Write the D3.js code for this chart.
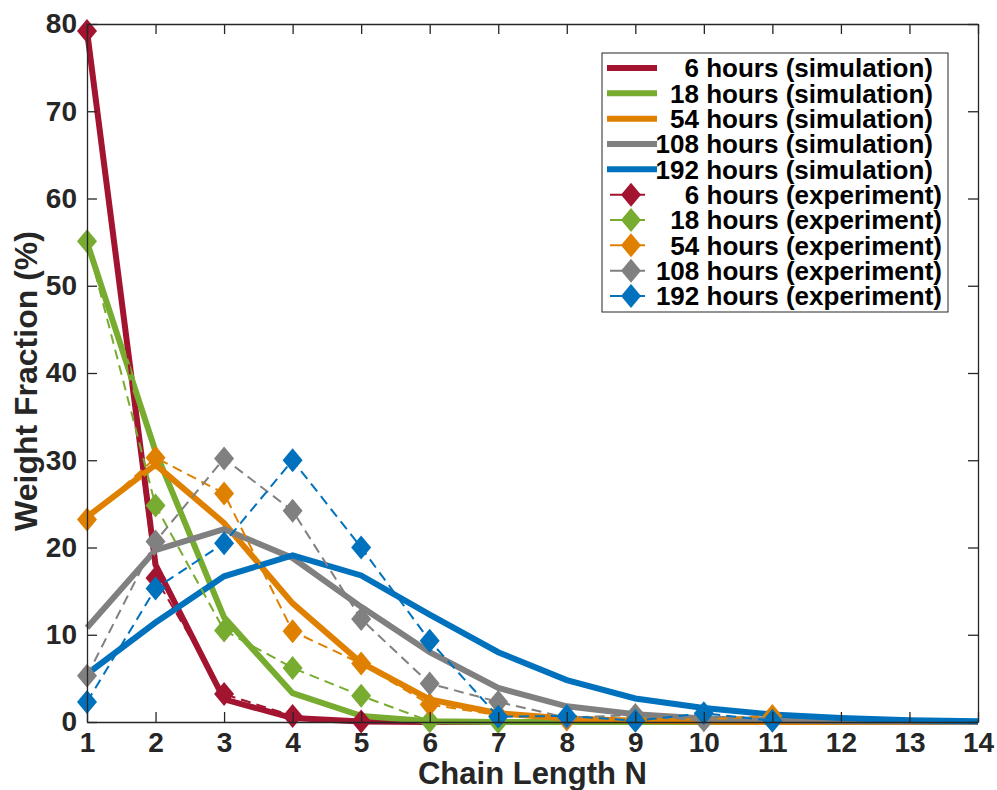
<!DOCTYPE html>
<html>
<head>
<meta charset="utf-8">
<script src="https://cdn.jsdelivr.net/npm/d3@7"></script>
<style>
body { margin: 0; background: #fff; }
svg { font-family: "Liberation Sans", Arial, Helvetica, sans-serif; font-weight: bold; }
</style>
</head>
<body>
<script>
var width  = 997
var height = 790
var margin = { top: 24, bottom: 68, left: 87, right: 19 }

// chain length N
var chainLength = [1, 2, 3, 4, 5, 6, 7, 8, 9, 10, 11, 12, 13, 14]
var xTicks = [1, 2, 3, 4, 5, 6, 7, 8, 9, 10, 11, 12, 13, 14]
var yTicks = [0, 10, 20, 30, 40, 50, 60, 70, 80]

var hours  = ['6', '18', '54', '108', '192']
var colors = ['#A2142F', '#77AC30', '#E08000', '#808080', '#0072BD']

// simulation, weight fraction (%) for N = 1..14
var sim6   = [79.2, 18.0, 2.6, 0.45, 0.05, 0, 0, 0, 0, 0, 0, 0, 0, 0]
var sim18  = [55.0, 31.0, 12.0, 3.3, 0.7, 0.1, 0, 0, 0, 0, 0, 0, 0, 0]
var sim54  = [23.5, 29.5, 22.8, 13.6, 6.8, 2.6, 1.0, 0.4, 0.15, 0.05, 0, 0, 0, 0]
var sim108 = [10.8, 19.7, 22.1, 18.8, 13.2, 8.0, 3.9, 1.8, 0.9, 0.4, 0.2, 0.1, 0.05, 0]
var sim192 = [5.5, 11.4, 16.7, 19.1, 16.8, 12.3, 8.0, 4.8, 2.7, 1.6, 0.85, 0.45, 0.2, 0.1]

// experiment, weight fraction (%) starting at N = 1
var exp6   = [79.2, 16.5, 3.2, 0.7, 0.05]
var exp18  = [55.1, 24.8, 10.5, 6.2, 3.0, 0.1, 0]
var exp54  = [23.2, 30.3, 26.2, 10.4, 6.7, 2.0, 0.8, 0.3, 0.4, 0.3, 0.7]
var exp108 = [5.3, 20.7, 30.2, 24.2, 11.8, 4.4, 2.3, 0.5, 0.8, 0.2]
var exp192 = [2.3, 15.3, 20.5, 30.0, 20.0, 9.3, 0.6, 0.7, 0.15, 1.0, 0.15]

var simSeries = [sim6, sim18, sim54, sim108, sim192]
var expSeries = [exp6, exp18, exp54, exp108, exp192]

var svg = d3.select('body')
	.append('svg')
	.attr('width', width)
	.attr('height', height)

var xScale = d3.scaleLinear()
	.domain([1, 14])
	.range([margin.left, width - margin.right])

var yScale = d3.scaleLinear()
	.domain([0, 80])
	.range([height - margin.bottom, margin.top])

var line = d3.line()
	.x((d, i) => xScale(chainLength[i]))
	.y(d => yScale(d))

// simulation curves (drawn first, experiments on top)
svg.append('g')
	.selectAll('path')
	.data(simSeries)
	.enter()
	.append('path')
	.attr('d', d => line(d))
	.attr('fill', 'none')
	.attr('stroke', (d, i) => colors[i])
	.attr('stroke-width', 6)

// experiment dashed lines + diamonds
function diamond(cx, cy, w, h) {
	return 'M' + cx + ',' + (cy - h) + 'L' + (cx + w) + ',' + cy +
		'L' + cx + ',' + (cy + h) + 'L' + (cx - w) + ',' + cy + 'Z'
}

expSeries.forEach((s, k) => {
	var g = svg.append('g')
	g.append('path')
		.attr('d', line(s))
		.attr('fill', 'none')
		.attr('stroke', colors[k])
		.attr('stroke-width', 2)
		.attr('stroke-dasharray', '10,6')
	g.selectAll('path.mk')
		.data(s)
		.enter()
		.append('path')
		.attr('class', 'mk')
		.attr('d', (d, i) => diamond(xScale(chainLength[i]), yScale(d), 10, 12))
		.attr('fill', colors[k])
})

// axes with inward ticks
var axisColor = '#262626'

var xAxis = d3.axisBottom(xScale)
	.tickValues(xTicks)
	.tickSize(-10)
	.tickSizeOuter(0)
	.tickPadding(10)
	.tickFormat(d3.format('d'))

var yAxis = d3.axisLeft(yScale)
	.tickValues(yTicks)
	.tickSize(-10)
	.tickSizeOuter(0)
	.tickPadding(10)

svg.append('g')
	.attr('transform', 'translate(' + [0, height - margin.bottom] + ')')
	.call(xAxis)

svg.append('g')
	.attr('transform', 'translate(' + [margin.left, 0] + ')')
	.call(yAxis)

svg.append('g')
	.attr('transform', 'translate(' + [0, margin.top] + ')')
	.call(d3.axisTop(xScale).tickValues(xTicks).tickSize(-10).tickSizeOuter(0).tickFormat(''))

svg.append('g')
	.attr('transform', 'translate(' + [width - margin.right, 0] + ')')
	.call(d3.axisRight(yScale).tickValues(yTicks).tickSize(-10).tickSizeOuter(0).tickFormat(''))

svg.selectAll('.domain, .tick line')
	.attr('stroke', axisColor)
	.attr('stroke-width', 1.3)

svg.selectAll('.tick text')
	.attr('fill', axisColor)
	.style('font-size', '28px')
	.style('font-family', '"Liberation Sans", Arial, sans-serif')
	.style('font-weight', 'bold')

// axis labels
svg.append('text')
	.attr('x', (margin.left + width - margin.right) / 2)
	.attr('y', 784)
	.attr('text-anchor', 'middle')
	.attr('fill', axisColor)
	.style('font-size', '31px')
	.text('Chain Length N')

svg.append('text')
	.attr('transform', 'translate(37,' + 381 + ') rotate(-90)')
	.attr('text-anchor', 'middle')
	.attr('fill', axisColor)
	.style('font-size', '32px')
	.text('Weight Fraction (%)')

// legend
var legend = svg.append('g')

legend.append('rect')
	.attr('x', 602)
	.attr('y', 53)
	.attr('width', 346)
	.attr('height', 259)
	.attr('fill', '#fff')
	.attr('stroke', axisColor)
	.attr('stroke-width', 1)

var rowY = d3.scaleLinear().domain([0, 9]).range([68, 296])

hours.forEach((h, i) => {
	var y = rowY(i)
	legend.append('line')
		.attr('x1', 607).attr('x2', 657)
		.attr('y1', y).attr('y2', y)
		.attr('stroke', colors[i])
		.attr('stroke-width', 6)
	legend.append('text')
		.attr('x', 933)
		.attr('y', y)
		.attr('dy', '0.36em')
		.attr('text-anchor', 'end')
		.attr('fill', '#000')
		.style('font-size', '26px')
		.text(h + ' hours (simulation)')
})

hours.forEach((h, i) => {
	var y = rowY(i + 5)
	legend.append('line')
		.attr('x1', 610).attr('x2', 645)
		.attr('y1', y).attr('y2', y)
		.attr('stroke', colors[i])
		.attr('stroke-width', 2)
	legend.append('path')
		.attr('d', diamond(631, y, 10, 12))
		.attr('fill', colors[i])
	legend.append('text')
		.attr('x', 942)
		.attr('y', y)
		.attr('dy', '0.36em')
		.attr('text-anchor', 'end')
		.attr('fill', '#000')
		.style('font-size', '26px')
		.text(h + ' hours (experiment)')
})
</script>
</body>
</html>
